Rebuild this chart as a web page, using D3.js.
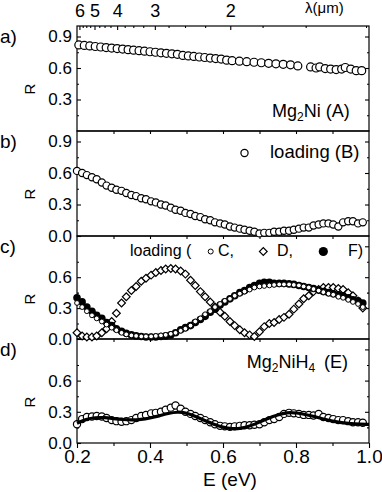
<!DOCTYPE html>
<html>
<head>
<meta charset="utf-8">
<script src="https://cdn.jsdelivr.net/npm/d3@7"></script>
<style>
body { margin: 0; background: #fff; }
svg { display: block; font-family: "Liberation Sans", Arial, sans-serif; }
</style>
</head>
<body>
<svg width="382" height="492"></svg>
<script>
// photon energy grid (eV) shared by panels b, c, d
var energy = [0.200,0.214,0.227,0.241,0.254,0.268,0.281,0.295,0.308,0.322,
  0.335,0.349,0.362,0.376,0.389,0.403,0.416,0.430,0.443,0.457,
  0.470,0.484,0.497,0.511,0.524,0.538,0.551,0.565,0.578,0.592,
  0.605,0.619,0.632,0.646,0.659,0.673,0.686,0.700,0.713,0.727,
  0.740,0.754,0.767,0.781,0.794,0.808,0.821,0.835,0.848,0.862,
  0.875,0.889,0.902,0.916,0.929,0.943,0.956,0.970,0.983];

// a) Mg2Ni (A)
var energyA = [0.205,0.220,0.235,0.250,0.265,0.280,0.295,0.310,0.325,0.340,
  0.355,0.370,0.385,0.400,0.415,0.430,0.445,0.460,0.475,0.490,
  0.505,0.520,0.535,0.550,0.565,0.580,0.595,0.610,0.625,0.645,
  0.665,0.685,0.705,0.725,0.745,0.765,0.785,0.805,0.840,0.855,
  0.865,0.880,0.895,0.910,0.925,0.935,0.950,0.965,0.980];
var reflA = [0.82,0.815,0.81,0.805,0.80,0.795,0.79,0.785,0.78,0.775,
  0.77,0.765,0.76,0.755,0.75,0.745,0.74,0.735,0.73,0.72,
  0.715,0.71,0.705,0.70,0.695,0.69,0.685,0.675,0.67,0.665,
  0.66,0.655,0.65,0.645,0.64,0.635,0.63,0.62,0.61,0.60,
  0.61,0.595,0.59,0.585,0.59,0.605,0.59,0.575,0.575];

// b) loading (B)
var reflB = [0.62,0.60,0.58,0.56,0.54,0.51,0.48,0.46,0.44,0.43,
  0.41,0.39,0.38,0.36,0.35,0.33,0.32,0.30,0.29,0.27,
  0.25,0.24,0.22,0.21,0.19,0.18,0.16,0.15,0.13,0.12,
  0.11,0.09,0.08,0.07,0.06,0.05,0.04,0.025,0.03,0.03,
  0.04,0.04,0.05,0.05,0.06,0.07,0.08,0.08,0.10,0.11,
  0.12,0.12,0.11,0.09,0.13,0.14,0.14,0.12,0.13];

// c) loading C, D, F
var reflC = [0.35,0.31,0.27,0.23,0.20,0.17,0.14,0.11,0.085,0.06,
  0.045,0.035,0.03,0.025,0.025,0.025,0.03,0.035,0.04,0.05,
  0.06,0.08,0.10,0.13,0.17,0.20,0.24,0.27,0.31,0.34,
  0.37,0.39,0.42,0.44,0.46,0.48,0.50,0.51,0.515,0.52,
  0.525,0.53,0.53,0.53,0.525,0.52,0.51,0.50,0.485,0.47,
  0.455,0.44,0.43,0.41,0.40,0.38,0.36,0.34,0.31];
var reflD = [0.06,0.03,0.02,0.02,0.03,0.06,0.10,0.17,0.25,0.35,
  0.41,0.47,0.51,0.56,0.59,0.62,0.645,0.665,0.68,0.685,
  0.68,0.66,0.63,0.57,0.52,0.46,0.41,0.36,0.31,0.26,
  0.22,0.17,0.13,0.09,0.06,0.04,0.025,0.07,0.12,0.15,
  0.16,0.19,0.21,0.24,0.29,0.34,0.39,0.42,0.46,0.48,
  0.50,0.50,0.50,0.49,0.48,0.45,0.42,0.37,0.30];
var reflF = [0.40,0.36,0.31,0.27,0.23,0.20,0.16,0.13,0.10,0.075,
  0.055,0.04,0.03,0.025,0.02,0.02,0.02,0.025,0.03,0.04,
  0.06,0.09,0.11,0.13,0.16,0.19,0.22,0.26,0.29,0.33,
  0.36,0.39,0.42,0.45,0.47,0.50,0.52,0.54,0.55,0.55,
  0.54,0.54,0.54,0.535,0.53,0.52,0.51,0.50,0.49,0.475,
  0.46,0.45,0.44,0.43,0.42,0.40,0.38,0.37,0.35];

// d) Mg2NiH4 (E) data + fit
var reflE = [0.18,0.23,0.25,0.255,0.26,0.255,0.24,0.22,0.21,0.205,
  0.21,0.22,0.24,0.26,0.27,0.285,0.29,0.30,0.32,0.34,
  0.36,0.33,0.30,0.28,0.26,0.24,0.22,0.20,0.18,0.165,
  0.16,0.155,0.16,0.165,0.17,0.17,0.175,0.18,0.20,0.22,
  0.23,0.25,0.28,0.29,0.285,0.28,0.27,0.27,0.265,0.28,
  0.25,0.24,0.23,0.22,0.22,0.21,0.20,0.20,0.195];
var fitEnergy = [0.2,0.225,0.25,0.275,0.3,0.325,0.35,0.375,0.4,0.425,0.45,
  0.475,0.5,0.525,0.55,0.575,0.6,0.625,0.65,0.675,0.7,0.725,0.75,
  0.775,0.8,0.825,0.85,0.875,0.9,0.925,0.95,0.975,1.0];
var fitE = [0.19,0.23,0.245,0.245,0.235,0.225,0.22,0.225,0.24,0.26,0.285,
  0.30,0.29,0.255,0.215,0.18,0.15,0.135,0.14,0.165,0.2,0.24,0.27,
  0.295,0.29,0.275,0.255,0.23,0.21,0.195,0.185,0.18,0.18];

// ticks
var eTicks = [0.2, 0.4, 0.6, 0.8, 1.0];
var eMinor = [0.3, 0.5, 0.7, 0.9];
var rMinor = [0.15, 0.45, 0.75];
var lambdaLabels = [6, 5, 4, 3, 2];
var lambdaMinor = [5.75,5.5,5.25,4.75,4.5,4.25,3.75,3.5,3.25,2.75,2.5,2.25,1.75,1.5,1.25];

var svg = d3.select("svg"),
    width = +svg.attr("width"),
    height = +svg.attr("height");

var font = "'Liberation Sans', Arial, sans-serif";
var left = 77, right = 369;
var x = d3.scaleLinear().domain([0.2, 1.0]).range([left, right]);

var panels = [
  {top: 26,  bottom: 131, letter: "a)", rTicks: [0.3, 0.6, 0.9]},
  {top: 131, bottom: 236, letter: "b)", rTicks: [0, 0.3, 0.6, 0.9]},
  {top: 236, bottom: 339, letter: "c)", rTicks: [0, 0.3, 0.6]},
  {top: 339, bottom: 443, letter: "d)", rTicks: [0, 0.3, 0.6]}
];
panels.forEach(function(p) {
  p.y = d3.scaleLinear().domain([0, 1.0]).range([p.bottom, p.top]);
});

// d3 axis sets its own font, so override after the call
function cleanAxis(g, size) {
  g.select(".domain").remove();
  g.attr("font-family", font).attr("font-size", size || 10);
  g.selectAll("line").attr("stroke", "#000").attr("stroke-width", 1.1);
  g.selectAll("text").attr("fill", "#000");
}

// frames, axes, labels
panels.forEach(function(p, i) {
  svg.append("rect")
      .attr("x", left).attr("y", p.top)
      .attr("width", right - left).attr("height", p.bottom - p.top)
      .attr("fill", "none").attr("stroke", "#000").attr("stroke-width", 1.2);

  svg.append("g")
      .attr("transform", "translate(" + left + ",0)")
      .call(d3.axisLeft(p.y).tickValues(p.rTicks).tickSize(-4).tickPadding(5).tickFormat(d3.format(".1f")))
      .call(cleanAxis, 17);
  svg.append("g")
      .attr("transform", "translate(" + left + ",0)")
      .call(d3.axisLeft(p.y).tickValues(rMinor).tickSize(-2).tickFormat(""))
      .call(cleanAxis);
  svg.append("g")
      .attr("transform", "translate(" + right + ",0)")
      .call(d3.axisRight(p.y).tickValues([0.3, 0.6, 0.9]).tickSize(-4).tickFormat(""))
      .call(cleanAxis);
  svg.append("g")
      .attr("transform", "translate(" + right + ",0)")
      .call(d3.axisRight(p.y).tickValues(rMinor).tickSize(-2).tickFormat(""))
      .call(cleanAxis);

  // energy ticks along the top edge of lower panels
  if (i > 0) {
    svg.append("g")
        .attr("transform", "translate(0," + p.top + ")")
        .call(d3.axisTop(x).tickValues(eTicks.concat(eMinor).filter(function(d) { return d > 0.2 && d < 1.0; })).tickSize(-3).tickFormat(""))
        .call(cleanAxis);
  }

  svg.append("text")
      .attr("x", 0).attr("y", p.top + 17)
      .attr("font-size", 19)
      .text(p.letter);

  svg.append("text")
      .attr("transform", "translate(34.5," + (p.top + 63) + ") rotate(-90)")
      .attr("text-anchor", "middle")
      .attr("font-size", 15)
      .text("R");
});

// bottom energy axis
var bottom = panels[3].bottom;
svg.append("g")
    .attr("transform", "translate(0," + bottom + ")")
    .call(d3.axisBottom(x).tickValues(eTicks).tickSize(5).tickPadding(2).tickFormat(d3.format(".1f")))
    .call(cleanAxis, 19);
svg.append("g")
    .attr("transform", "translate(0," + bottom + ")")
    .call(d3.axisBottom(x).tickValues(eMinor).tickSize(3).tickFormat(""))
    .call(cleanAxis);
svg.append("text")
    .attr("x", 230).attr("y", 486)
    .attr("text-anchor", "middle")
    .attr("font-size", 19)
    .text("E (eV)");

// top wavelength axis, lambda (um) -> E = 1.2398 / lambda
function lamToE(l) { return 1.2398 / l; }
svg.append("g")
    .attr("transform", "translate(0," + panels[0].top + ")")
    .call(d3.axisTop(x).tickValues(lambdaLabels.map(lamToE)).tickSize(-4).tickPadding(9)
      .tickFormat(function(d) { return Math.round(1.2398 / d); }))
    .call(cleanAxis, 18);
svg.append("g")
    .attr("transform", "translate(0," + panels[0].top + ")")
    .call(d3.axisTop(x).tickValues(lambdaMinor.map(lamToE)).tickSize(-2).tickFormat(""))
    .call(cleanAxis);
svg.append("text")
    .attr("x", 305).attr("y", 12.5)
    .attr("font-size", 15)
    .text("\u03bb(\u03bcm)");

// a) Mg2Ni
var pa = panels[0];
svg.append("g").selectAll("circle")
    .data(energyA.map(function(e, i) { return [e, reflA[i]]; }))
    .enter().append("circle")
      .attr("cx", function(d) { return x(d[0]); })
      .attr("cy", function(d) { return pa.y(d[1]); })
      .attr("r", 4)
      .attr("fill", "#fff").attr("stroke", "#000").attr("stroke-width", 1.2);

var la = svg.append("text").attr("x", 272).attr("y", 117).attr("font-size", 18);
la.append("tspan").text("Mg");
la.append("tspan").attr("font-size", 12).attr("dy", 4).text("2");
la.append("tspan").attr("dy", -4).text("Ni (A)");

// b) loading B
var pb = panels[1];
svg.append("g").selectAll("circle")
    .data(energy.map(function(e, i) { return [e, reflB[i]]; }))
    .enter().append("circle")
      .attr("cx", function(d) { return x(d[0]); })
      .attr("cy", function(d) { return pb.y(d[1]); })
      .attr("r", 3.6)
      .attr("fill", "#fff").attr("stroke", "#000").attr("stroke-width", 1.2);
svg.append("circle").attr("cx", 244.5).attr("cy", 153)
    .attr("r", 3.6).attr("fill", "#fff").attr("stroke", "#000").attr("stroke-width", 1.2);
svg.append("text").attr("x", 270).attr("y", 157.5).attr("font-size", 18.5).text("loading (B)");

// c) loading C, D, F
var pc = panels[2];
var diamond = d3.symbol().type(d3.symbolSquare).size(30);
svg.append("g").selectAll("path")
    .data(energy.map(function(e, i) { return [e, reflD[i]]; }))
    .enter().append("path")
      .attr("d", diamond)
      .attr("transform", function(d) { return "translate(" + x(d[0]) + "," + pc.y(d[1]) + ") rotate(45)"; })
      .attr("fill", "#fff").attr("stroke", "#000").attr("stroke-width", 1.2);
svg.append("g").selectAll("circle")
    .data(energy.map(function(e, i) { return [e, reflF[i]]; }))
    .enter().append("circle")
      .attr("cx", function(d) { return x(d[0]); })
      .attr("cy", function(d) { return pc.y(d[1]); })
      .attr("r", 3.8)
      .attr("fill", "#000");
svg.append("g").selectAll("circle")
    .data(energy.map(function(e, i) { return [e, reflC[i]]; }))
    .enter().append("circle")
      .attr("cx", function(d) { return x(d[0]); })
      .attr("cy", function(d) { return pc.y(d[1]); })
      .attr("r", 2.4)
      .attr("fill", "#fff").attr("stroke", "#000").attr("stroke-width", 1);

svg.append("text").attr("x", 130).attr("y", 256).attr("font-size", 16).text("loading (");
svg.append("circle").attr("cx", 210.7).attr("cy", 251.5)
    .attr("r", 2.5).attr("fill", "#fff").attr("stroke", "#000").attr("stroke-width", 1);
svg.append("text").attr("x", 218).attr("y", 256).attr("font-size", 16).text("C,");
svg.append("path").attr("d", diamond)
    .attr("transform", "translate(263.3,251.5) rotate(45)")
    .attr("fill", "#fff").attr("stroke", "#000").attr("stroke-width", 1.2);
svg.append("text").attr("x", 277).attr("y", 256).attr("font-size", 16).text("D,");
svg.append("circle").attr("cx", 323.3).attr("cy", 251.5).attr("r", 4.6).attr("fill", "#000");
svg.append("text").attr("x", 348).attr("y", 256).attr("font-size", 16).text("F)");

// d) Mg2NiH4 (E)
var pd = panels[3];
svg.append("g").selectAll("circle")
    .data(energy.map(function(e, i) { return [e, reflE[i]]; }))
    .enter().append("circle")
      .attr("cx", function(d) { return x(d[0]); })
      .attr("cy", function(d) { return pd.y(d[1]); })
      .attr("r", 3.6)
      .attr("fill", "#fff").attr("stroke", "#000").attr("stroke-width", 1.2);

var fitLine = d3.line()
    .x(function(d) { return x(d[0]); })
    .y(function(d) { return pd.y(d[1]); })
    .curve(d3.curveBasis);
svg.append("path")
    .datum(fitEnergy.map(function(e, i) { return [e, fitE[i]]; }))
    .attr("d", fitLine)
    .attr("fill", "none").attr("stroke", "#000").attr("stroke-width", 3.2);

var ld = svg.append("text").attr("x", 246.7).attr("y", 368).attr("font-size", 18);
ld.append("tspan").text("Mg");
ld.append("tspan").attr("font-size", 12).attr("dy", 4).text("2");
ld.append("tspan").attr("dy", -4).text("NiH");
ld.append("tspan").attr("font-size", 12).attr("dy", 4).text("4");
ld.append("tspan").attr("dy", -4).attr("dx", 9).text("(E)");
</script>
</body>
</html>
